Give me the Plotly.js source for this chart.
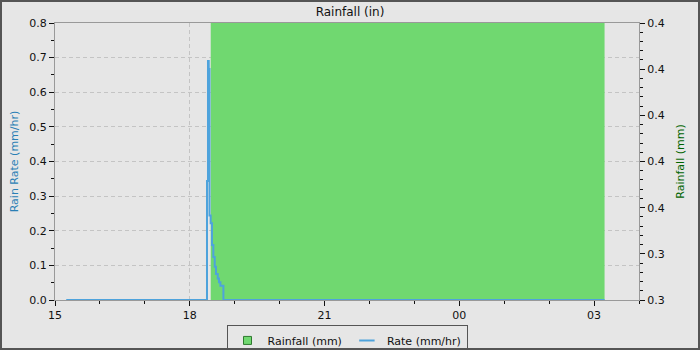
<!DOCTYPE html>
<html><head><meta charset="utf-8">
<script src="https://cdn.plot.ly/plotly-3.0.1.min.js"></script>
<style>
html,body{margin:0;padding:0;background:#e6e6e6;}
#wrap{width:696px;height:346px;border:2px solid #555;}
#chart{width:696px;height:346px;}
</style></head>
<body><div id="wrap"><div id="chart"></div></div>
<script>
// Rain rate (mm/hr), step series
const rateTimes = [
  '2024-01-01 15:15:00','2024-01-01 18:23:00','2024-01-01 18:24:20','2024-01-01 18:25:20',
  '2024-01-01 18:26:20','2024-01-01 18:27:55','2024-01-01 18:29:40','2024-01-01 18:31:30',
  '2024-01-01 18:33:20','2024-01-01 18:35:00','2024-01-01 18:37:20','2024-01-01 18:39:00',
  '2024-01-01 18:40:55','2024-01-01 18:43:00','2024-01-01 18:44:55','2024-01-02 03:14:00'
];
const rateValues = [0, 0.344, 0.69, 0.667, 0.244, 0.222, 0.159, 0.124, 0.096, 0.075, 0.062, 0.051, 0.041, 0.041, 0, 0];

// Rainfall (mm), step series
const rainTimes = ['2024-01-01 15:15:00','2024-01-01 18:28:00','2024-01-02 03:14:00'];
const rainValues = [0, 0.42, 0.42];

const leftTicks = [0,0.1,0.2,0.3,0.4,0.5,0.6,0.7,0.8];
const leftLabels = ['0.0','0.1','0.2','0.3','0.4','0.5','0.6','0.7','0.8'];
const rightTicks = [0.30,0.32,0.34,0.36,0.38,0.40,0.42];
const rightLabels = ['0.3','0.3','0.4','0.4','0.4','0.4','0.4'];

const FF = 'DejaVu Sans, sans-serif';
const font = {family:FF, size:11, color:'#111'};
const GREEN = '#70d870', BLUE = '#4ea3dc';

const traces = [
  {x: rainTimes, y: rainValues, name:'Rainfall (mm)', type:'scatter', mode:'lines',
   line:{shape:'hv', width:0, color:GREEN}, fill:'tozeroy', fillcolor:GREEN,
   xaxis:'x', yaxis:'y', showlegend:false},
  {x: rateTimes, y: rateValues, name:'Rate (mm/hr)', type:'scatter', mode:'lines',
   line:{shape:'hv', width:2, color:BLUE}, xaxis:'x', yaxis:'y2', showlegend:false},
  // legend entries
  {x:[null], y:[null], name:'Rainfall (mm)', type:'scatter', mode:'markers',
   marker:{symbol:'square', size:8, color:GREEN, line:{color:'#2f7a2f', width:1}}, xaxis:'x', yaxis:'y'},
  {x:[null], y:[null], name:'Rate (mm/hr)', type:'scatter', mode:'markers',
   marker:{symbol:'line-ew-open', size:11, color:BLUE, line:{color:BLUE, width:2}}, xaxis:'x', yaxis:'y2'}
];

const layout = {
  width:696, height:346,
  margin:{l:53, r:59, t:21, b:48, autoexpand:false},
  paper_bgcolor:'#e6e6e6', plot_bgcolor:'#e6e6e6',
  font: font,
  showlegend:true,
  title:{text:'Rainfall (in)', x:0.5, xanchor:'center', y:0.985, yanchor:'top', font:{family:FF, size:12, color:'#111'}},
  legend:{orientation:'h', x:0.5, xanchor:'center', y:-0.09, yanchor:'top',
          bgcolor:'#e6e6e6', bordercolor:'#555', borderwidth:1, font:{family:FF, size:11, color:'#111'},
          traceorder:'normal', itemwidth:30},
  xaxis:{type:'date', range:['2024-01-01 15:00','2024-01-02 04:00'],
         tick0:'2024-01-01 15:00', dtick:10800000, tickformat:'%H',
         ticks:'outside', ticklen:5, tickcolor:'#111',
         minor:{dtick:3600000, ticks:'outside', ticklen:3, tickcolor:'#111', showgrid:false},
         showgrid:true, gridcolor:'#c4c4c4', griddash:'4px,3px', gridwidth:1,
         showline:true, linecolor:'#999', mirror:true, zeroline:false, tickfont:font},
  yaxis:{range:[0.3,0.42], tickvals:rightTicks, ticktext:rightLabels, side:'right',
         ticks:'outside', ticklen:5, tickcolor:'#111',
         minor:{dtick:0.004, ticks:'outside', ticklen:3, tickcolor:'#111', showgrid:false},
         showgrid:false, zeroline:false, showline:true, linecolor:'#999', mirror:true,
         title:{text:'Rainfall (mm)', font:{family:FF, size:11, color:'#006400'}, standoff:12},
         tickfont:font},
  yaxis2:{range:[0,0.8], tickvals:leftTicks, ticktext:leftLabels, side:'left', overlaying:'y',
          ticks:'outside', ticklen:5, tickcolor:'#111',
          minor:{dtick:0.05, ticks:'outside', ticklen:3, tickcolor:'#111', showgrid:false},
          showgrid:true, gridcolor:'#c4c4c4', griddash:'4px,3px', gridwidth:1,
          zeroline:false, showline:true, linecolor:'#999',
          title:{text:'Rain Rate (mm/hr)', font:{family:FF, size:11, color:'#2a7fb5'}, standoff:8},
          tickfont:font}
};

Plotly.newPlot('chart', traces, layout, {displayModeBar:false, staticPlot:true});
</script></body></html>
